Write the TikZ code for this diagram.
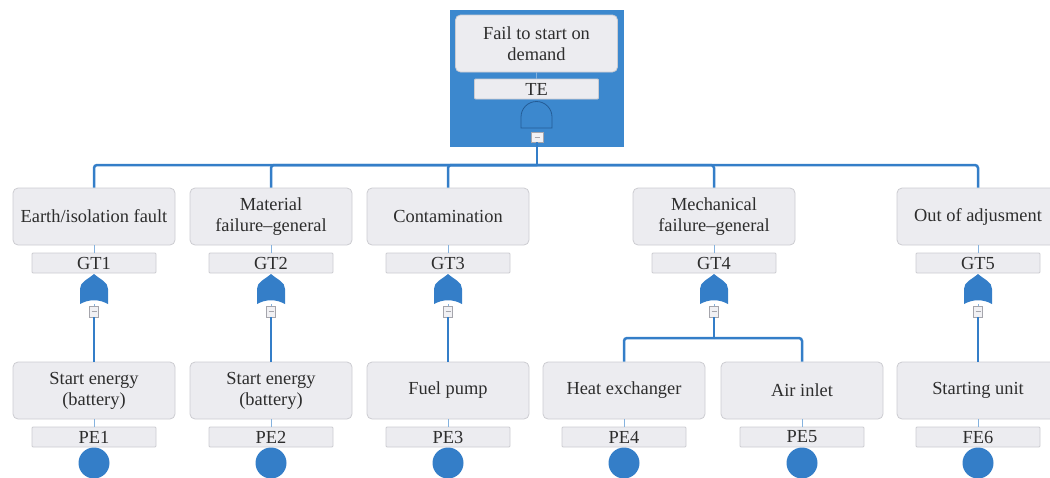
\documentclass[tikz,border=0pt]{standalone}
\usepackage{fontspec}
\setmainfont{Liberation Serif}
\usetikzlibrary{positioning}

\definecolor{ftblue}{RGB}{52,126,200}
\definecolor{topblue}{RGB}{60,136,206}
\definecolor{gateline}{RGB}{36,92,150}
\definecolor{evfill}{RGB}{236,236,240}
\definecolor{evline}{RGB}{204,204,209}
\definecolor{txt}{RGB}{45,45,45}
\definecolor{minusfill}{RGB}{241,241,244}
\definecolor{minusline}{RGB}{165,165,172}

\tikzset{
  ftfont/.style={font=\fontsize{18.4}{21}\selectfont, text=txt},
  evbox/.style={ftfont, draw=evline, fill=evfill, line width=0.8pt, rounded corners=5pt,
    minimum width=162pt, minimum height=57pt, align=center, inner sep=2pt},
  idbox/.style={ftfont, draw=evline, fill=evfill, line width=0.8pt, rounded corners=1pt,
    minimum width=124pt, minimum height=20pt, inner sep=0pt},
  link/.style={draw=ftblue, line width=2.5pt, rounded corners=3pt},
  thinlink/.style={draw=ftblue!60, line width=1pt},
  minusbox/.style={draw=minusline, fill=minusfill, line width=0.6pt, inner sep=0pt,
    minimum width=9pt, minimum height=11pt,
    path picture={\draw[minusline, line width=1pt]
      ([xshift=-2.5pt]path picture bounding box.center) -- ([xshift=2.5pt]path picture bounding box.center);}},
  orgate/.style={inner sep=0pt, minimum width=28pt, minimum height=30pt,
    path picture={\fill[ftblue]
      (path picture bounding box.south west) .. controls +(9pt,5pt) and +(-9pt,5pt) ..
      (path picture bounding box.south east) -- ([yshift=15pt]path picture bounding box.south east)
      .. controls +(0,7pt) and +(7pt,-6pt) .. (path picture bounding box.north)
      .. controls +(-7pt,-6pt) and +(0,7pt) .. ([yshift=15pt]path picture bounding box.south west) -- cycle;}},
  andgate/.style={inner sep=0pt, minimum width=32pt, minimum height=27pt,
    path picture={\draw[gateline, line width=0.8pt]
      ([xshift=0.5pt,yshift=0.5pt]path picture bounding box.south west) -- ([xshift=-0.5pt,yshift=0.5pt]path picture bounding box.south east)
      -- ++(0,11pt) arc[start angle=0, end angle=180, radius=15.5pt] -- cycle;}},
  basic/.style={circle, fill=ftblue, minimum size=31pt, inner sep=0pt}
}

\begin{document}
\begin{tikzpicture}[x=1pt, y=1pt]
    \useasboundingbox (0,0) rectangle (1050,-477);

    % Top event in its blue frame
    \node[fill=topblue, minimum width=174pt, minimum height=137pt, inner sep=0pt] (frame) at (537,-78.5) {};
    \node[evbox] (top) at (536.5,-43.5) {Fail to start on\\demand};
    \node[idbox] (te) at (536.5,-89) {TE};
    \node[andgate] (g0) at (536.5,-115) {};
    \node[minusbox, minimum width=12pt, minimum height=10pt] (m0) at (537,-137) {};
    \draw[thinlink] (top) -- (te);

    % Intermediate events
    \foreach \i/\x/\txt in {1/94/{Earth/isolation fault}, 2/271/{Material\\failure–general},
        3/448/{Contamination}, 4/714/{Mechanical\\failure–general}, 5/978/{Out of adjusment}} {
        \node[evbox] (e\i) at (\x,-216.5) {\txt};
        \node[idbox] (l\i) at (\x,-263) {GT\i};
        \node[orgate] (g\i) at (\x,-289) {};
        \node[minusbox] (m\i) at (\x,-311.5) {};
        \draw[thinlink] (e\i) -- (l\i);
        \draw[thinlink] (g\i) -- (m\i);
    }

    % Basic events
    \foreach \j/\x/\txt/\lab in {1/94/{Start energy\\(battery)}/PE1, 2/271/{Start energy\\(battery)}/PE2,
        3/448/{Fuel pump}/PE3, 4/624/{Heat exchanger}/PE4, 5/802/{Air inlet}/PE5, 6/978/{Starting unit}/FE6} {
        \node[evbox] (b\j) at (\x,-390.5) {\txt};
        \node[idbox] (p\j) at (\x,-437) {\lab};
        \node[basic] (c\j) at (\x,-463) {};
        \draw[thinlink] (b\j) -- (p\j);
    }

    % Top gate to the intermediate events
    \coordinate (bar) at (537,-165);
    \draw[link] (m0.south) -- (bar);
    \foreach \i in {1,...,5} {
        \draw[link] (bar) -| (e\i.north);
    }

    % Gates to the basic events
    \draw[link] (m1.south) -- (b1.north);
    \draw[link] (m2.south) -- (b2.north);
    \draw[link] (m3.south) -- (b3.north);
    \draw[link] (m5.south) -- (b6.north);
    \coordinate (split) at (714,-338);
    \draw[link] (m4.south) -- (split);
    \draw[link] (split) -| (b4.north);
    \draw[link] (split) -| (b5.north);

\end{tikzpicture}
\end{document}
